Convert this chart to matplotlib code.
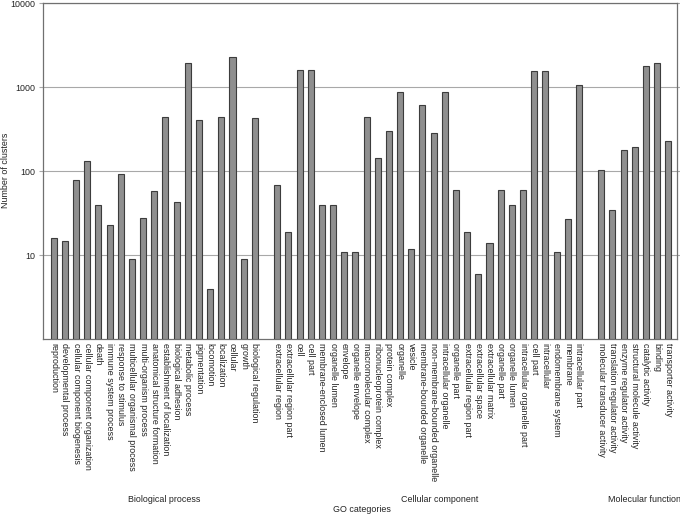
import matplotlib
matplotlib.use("Agg")
import matplotlib.pyplot as plt
import numpy as np

plt.rcParams['font.family'] = ['Liberation Sans', 'DejaVu Sans']

bp_labels = ["reproduction", "developmental process", "cellular component biogenesis",
             "cellular component organization", "death", "immune system process",
             "response to stimulus", "multicellular organismal process", "multi-organism process",
             "anatomical structure formation", "establishment of localization", "biological adhesion",
             "metabolic process", "pigmentation", "locomotion", "localization", "cellular",
             "growth", "biological regulation"]
bp_values = [15, 14, 78, 132, 39, 22, 91, 8, 27, 58, 443, 42, 1950, 405, 3, 447, 2270, 8, 435]

cc_labels = ["extracellular region", "extracellular region part", "cell", "cell part",
             "membrane-enclosed lumen", "organelle lumen", "envelope", "organelle envelope",
             "macromolecular complex", "ribonucleoprotein complex", "protein complex", "organelle",
             "vesicle", "membrane-bounded organelle", "non-membrane-bounded organelle",
             "intracellular organelle", "organelle part", "extracellular region part",
             "extracellular space", "extracellular matrix", "organelle part", "organelle lumen",
             "intracellular organelle part", "cell part", "intracellular", "endomembrane system",
             "membrane", "intracellular part"]
cc_values = [67, 18, 1590, 1590, 39, 39, 10, 10, 439, 143, 299, 880, 11, 622, 286, 872, 59,
             18, 5, 13, 59, 39, 59, 1580, 1560, 10, 26, 1057]

mf_labels = ["molecular transducer activity", "translation regulator activity",
             "enzyme regulator activity", "structural molecule activity", "catalytic activity",
             "binding", "transporter activity"]
mf_values = [103, 34, 179, 193, 1780, 1930, 228]

group_names = ["Biological process", "Cellular component", "Molecular function"]
y_ticks = [10, 100, 1000, 10000]

fig = plt.figure(figsize=(6.8, 5.14), dpi=100)
ax = fig.add_axes([42.7 / 680, 1 - 339.3 / 514, (677 - 42.7) / 680, (339.3 - 3.3) / 514])

labels = []
values = []
positions = []
pos = 0
for gl, gv in [(bp_labels, bp_values), (cc_labels, cc_values), (mf_labels, mf_values)]:
    for l, v in zip(gl, gv):
        labels.append(l)
        values.append(v)
        positions.append(pos)
        pos += 1
    pos += 1

ax.set_yscale('log')
ax.set_ylim(1, 10000)
ax.set_xlim(-0.985, 55.78)
ax.yaxis.grid(True, which='major', color='#a8a8a8', linewidth=0.8)
ax.set_axisbelow(True)
ax.bar(positions, values, width=0.54, bottom=1, color='#8f8f8f', edgecolor='#3c3c3c', linewidth=0.8, zorder=3)

ax.set_yticks(y_ticks)
ax.set_yticklabels([str(t) for t in y_ticks])
ax.yaxis.set_minor_locator(matplotlib.ticker.NullLocator())
ax.tick_params(axis='y', which='major', direction='out', length=3, width=0.8, color='#a8a8a8',
               labelsize=6.4, pad=2, right=True, labelcolor='#222222')
ax.set_xticks(positions)
ax.set_xticklabels(labels, rotation=-90, fontsize=6.4, color='#222222', va='top', ha='center')
ax.tick_params(axis='x', length=0, pad=3)

for s in ax.spines.values():
    s.set_color('#707070')
    s.set_linewidth(0.9)

fig.text(6 / 680, 1 - 170 / 514, "Number of clusters", rotation=90, ha='center', va='center',
         fontsize=6.4, color='#222222')

fig.text(164 / 680, 1 - 499 / 514, group_names[0], ha='center', va='center', fontsize=6.4, color='#222222')
fig.text(440 / 680, 1 - 499 / 514, group_names[1], ha='center', va='center', fontsize=6.4, color='#222222')
fig.text(645 / 680, 1 - 499 / 514, group_names[2], ha='center', va='center', fontsize=6.4, color='#222222')
fig.text(362 / 680, 1 - 510 / 514, "GO categories", ha='center', va='center', fontsize=6.4, color='#222222')

fig.savefig("out.png", dpi=100)
